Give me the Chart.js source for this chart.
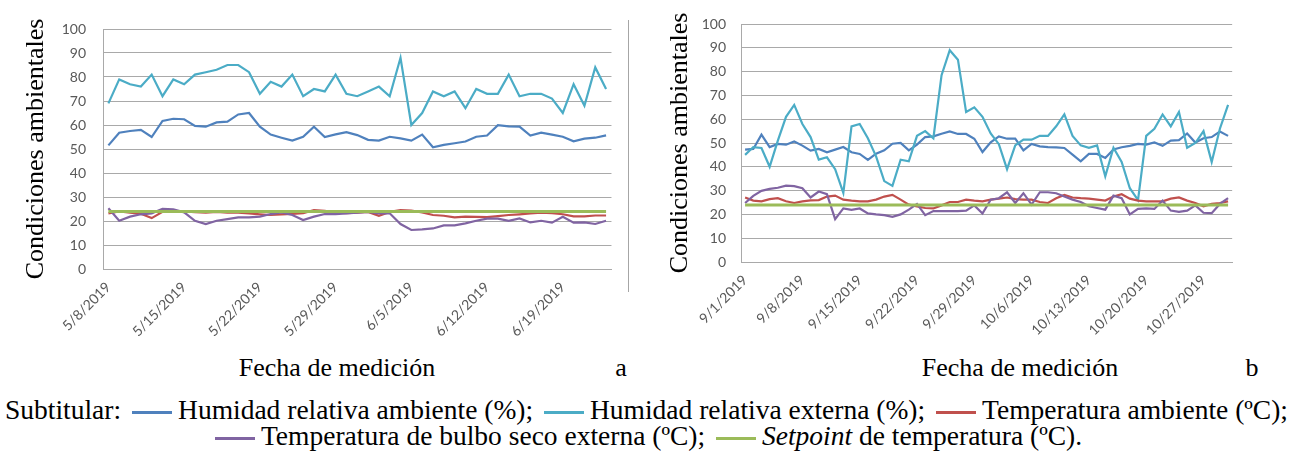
<!DOCTYPE html>
<html lang="es">
<head>
<meta charset="utf-8">
<title>Condiciones ambientales</title>
<script src="https://cdn.jsdelivr.net/npm/chart.js@4.4.1/dist/chart.umd.min.js"></script>
<style>
  html, body { margin: 0; padding: 0; background: #fff; }
  body { width: 1293px; height: 451px; position: relative; overflow: hidden;
         font-family: "Liberation Serif", "Times New Roman", serif; color: #000; }
  .box { position: absolute; top: 0; height: 350px; }
  #boxA { left: 0; width: 628px; }
  #boxB { left: 650px; width: 600px; }
  .frame { position: absolute; left: 628px; top: 20px; height: 272px; border-left: 1px solid #a6a6a6; }
  .xt { position: absolute; top: 352px; font-size: 26px; line-height: 32px; white-space: nowrap; transform: translateX(-50%); }
  .legend { position: absolute; left: 0; top: 397px; width: 1293px; text-align: center; font-size: 27.5px; line-height: 26px; white-space: nowrap; }
  .sw { display: inline-block; width: 40px; height: 3px; vertical-align: middle; margin: 0 6px 0 4px; }
</style>
</head>
<body>
<div class="box" id="boxA"><canvas id="chartA"></canvas></div>
<div class="frame"></div>
<div class="box" id="boxB"><canvas id="chartB"></canvas></div>

<div class="xt" style="left:337px">Fecha de medición</div>
<div class="xt" style="left:621px">a</div>
<div class="xt" style="left:1020px">Fecha de medición</div>
<div class="xt" style="left:1252px">b</div>

<div class="legend">
  Subtitular: <span class="sw" style="background:#4f81bd"></span>Humidad relativa ambiente (%); <span class="sw" style="background:#4bacc6"></span>Humidad relativa externa (%); <span class="sw" style="background:#c0504d"></span>Temperatura ambiente (ºC);<br>
  <span class="sw" style="background:#8064a2"></span>Temperatura de bulbo seco externa (ºC); <span class="sw" style="background:#9bbb59"></span><i>Setpoint</i> de temperatura (ºC).
</div>

<script>
'use strict';

// chart a: 5/8/2019 .. 6/23/2019 (one reading per day)
const startA = '2019-05-08';
const rhAmbientA = [51.5, 56.8, 57.5, 58, 55, 61.7, 62.6, 62.4, 59.6, 59.3,
  61.1, 61.4, 64.4, 65, 59.3, 56, 54.7, 53.5, 55.1, 59.3,
  55, 56.1, 57, 55.8, 53.8, 53.5, 55.1, 54.4, 53.5, 56,
  50.7, 51.7, 52.4, 53.1, 55.1, 55.6, 59.9, 59.4, 59.3, 55.6,
  56.8, 56, 55.1, 53.2, 54.3, 54.7, 55.7];
const rhExternaA = [69, 79, 77, 76, 81, 72, 79, 77, 81, 82,
  83, 85, 85, 82, 73, 78, 76, 81, 72, 75,
  74, 81, 73, 72, 74, 76, 72, 88, 60, 65,
  74, 72, 74, 67, 75, 73, 73, 81, 72, 73,
  73, 71, 65, 77, 68, 84, 75];
const tempAmbientA = [23.2, 24, 23.5, 23, 21.2, 23.8, 24, 24, 23.7, 23.5,
  23.8, 23.5, 23.5, 23.2, 22.8, 22.5, 22.8, 23, 23.3, 24.5,
  24.2, 23.5, 23.3, 23.5, 23.8, 22.2, 23.8, 24.5, 24.3, 23.6,
  22.5, 22.2, 21.5, 21.8, 21.7, 21.6, 22, 22.5, 22.8, 23.2,
  23.5, 23.3, 22.8, 21.9, 21.9, 22.3, 22.3];
const tempBulboA = [25.3, 20.1, 21.8, 22.8, 23.2, 25.1, 24.9, 23.6, 20.1, 18.75,
  20.1, 20.8, 21.5, 21.5, 21.8, 22.9, 23.6, 22.5, 20.4, 21.8,
  22.9, 22.9, 23.2, 23.5, 23.8, 23.2, 23.2, 18.75, 16.25, 16.5,
  16.9, 18.2, 18.2, 19, 20.1, 21, 21, 20.1, 21.1, 19.4,
  20.1, 19.3, 21.8, 19.3, 19.4, 18.75, 20.1];
const setpointA = [24, 24, 24, 24, 24, 24, 24, 24, 24, 24,
  24, 24, 24, 24, 24, 24, 24, 24, 24, 24,
  24, 24, 24, 24, 24, 24, 24, 24, 24, 24,
  24, 24, 24, 24, 24, 24, 24, 24, 24, 24,
  24, 24, 24, 24, 24, 24, 24];

// chart b: 9/1/2019 .. 10/30/2019
const startB = '2019-09-01';
const rhAmbientB = [47.2, 47.5, 53.5, 48.3, 49.6, 49.3, 50.6, 48.9, 46.8, 47.5,
  46.1, 47.2, 48.3, 46.1, 45.4, 42.9, 45.5, 46.9, 49.7, 50,
  46.9, 49.3, 52.5, 52.8, 53.9, 54.9, 53.8, 53.8, 51.8, 46.2,
  50.3, 52.8, 51.8, 51.8, 46.9, 49.6, 48.6, 48.3, 48.2, 47.9,
  45.1, 42.3, 45.4, 45.4, 43.7, 47.3, 48.2, 48.8, 49.6, 49.3,
  50.2, 48.8, 51, 51.2, 54, 50.2, 52, 52.5, 54.8, 53];
const rhExternaB = [45, 48.3, 47.9, 40, 51, 61, 66, 58, 52.5, 43,
  44, 39, 29, 57, 58, 52, 44.4, 34, 32, 43,
  42.3, 53, 55, 52, 78.5, 89, 85, 63, 65, 61,
  54, 49.5, 39, 49, 51.4, 51.4, 53, 53, 57, 62,
  53, 49, 48, 49, 36, 48, 42, 31, 26, 53,
  56, 62, 57, 63, 48, 50, 55, 42, 56, 66];
const tempAmbientB = [27.1, 25.8, 25.5, 26.4, 26.8, 25.5, 24.8, 25.5, 25.9, 26,
  27.5, 27.9, 26.2, 25.8, 25.5, 25.5, 26.2, 27.5, 28.2, 26.2,
  24.1, 23.4, 22.7, 22.5, 23.8, 25.2, 25.2, 26.2, 25.8, 25.5,
  26.2, 26.6, 27.1, 26.4, 26.2, 26.2, 25.2, 24.8, 26.8, 28.2,
  27.1, 26.8, 26.6, 26.2, 25.8, 27.5, 28.5, 26.6, 25.8, 25.5,
  25.5, 25.5, 26.6, 27.1, 25.8, 24.8, 23.4, 24.4, 24.8, 25.5];
const tempBulboB = [24.8, 27.8, 29.9, 30.7, 31.2, 32.1, 31.9, 31, 27.1, 29.6,
  28.5, 18, 22.5, 21.9, 22.5, 20.4, 20, 19.7, 19, 20,
  22, 24.4, 19.7, 21.4, 21.4, 21.4, 21.4, 21.6, 23.8, 20.4,
  26.2, 26.8, 29.3, 24.8, 28.9, 24.1, 29.3, 29.3, 28.9, 27.5,
  26.2, 25.2, 23.4, 22.7, 22, 27.9, 26.8, 20, 22.3, 22.5,
  22.3, 25.8, 21.6, 21.1, 21.6, 23.8, 20.7, 20.5, 24.4, 26.8];
const setpointB = [24, 24, 24, 24, 24, 24, 24, 24, 24, 24,
  24, 24, 24, 24, 24, 24, 24, 24, 24, 24,
  24, 24, 24, 24, 24, 24, 24, 24, 24, 24,
  24, 24, 24, 24, 24, 24, 24, 24, 24, 24,
  24, 24, 24, 24, 24, 24, 24, 24, 24, 24,
  24, 24, 24, 24, 24, 24, 24, 24, 24, 24];

const yTicks = [0, 10, 20, 30, 40, 50, 60, 70, 80, 90, 100];

const seriesNames = ['Humidad relativa ambiente (%)', 'Humidad relativa externa (%)',
  'Temperatura ambiente (ºC)', 'Temperatura de bulbo seco externa (ºC)', 'Setpoint de temperatura (ºC)'];
const seriesColors = ['#4f81bd', '#4bacc6', '#c0504d', '#8064a2', '#9bbb59'];

// consecutive day labels like 5/8/2019
function dayLabels(start, n) {
  let out = [];
  let d = new Date(start + 'T12:00:00');
  for (let i = 0; i < n; i++) {
    out.push((d.getMonth() + 1) + '/' + d.getDate() + '/' + d.getFullYear());
    d.setDate(d.getDate() + 1);
  }
  return out;
}

const gridGray = '#a9a9a9';
const tickFont = { family: 'Lato, "Liberation Sans", sans-serif', size: 14 };

function renderChart(canvasId, labels, series, geo) {
  let datasets = [];
  for (let i = 0; i < series.length; i++) {
    datasets.push({
      label: seriesNames[i],
      data: series[i],
      borderColor: seriesColors[i],
      backgroundColor: seriesColors[i],
      borderWidth: i === 4 ? 3 : 2.2,
      pointRadius: 0,
      tension: 0,
      order: 5 - i   // later series drawn on top, like the spreadsheet
    });
  }

  new Chart(document.getElementById(canvasId), {
    type: 'line',
    data: { labels: labels, datasets: datasets },
    options: {
      responsive: true,
      maintainAspectRatio: false,
      animation: false,
      events: [],
      layout: { padding: { left: 0, right: geo.right, top: geo.top, bottom: 0 } },
      plugins: { legend: { display: false }, tooltip: { enabled: false } },
      scales: {
        x: {
          offset: true,
          grid: { display: false, drawTicks: false },
          border: { display: true, color: gridGray, width: 1 },
          ticks: {
            autoSkip: false,
            minRotation: 45,
            maxRotation: 45,
            padding: 10,
            color: '#595959',
            font: tickFont,
            callback: function (value, index) {
              return index % 7 === 0 ? this.getLabelForValue(value) : '';
            }
          },
          afterFit: function (scale) { scale.height = geo.xHeight; }
        },
        y: {
          min: 0,
          max: 100,
          afterBuildTicks: function (scale) {
            scale.ticks = yTicks.map(v => ({ value: v }));
          },
          grid: { color: gridGray, lineWidth: 1, drawTicks: false },
          border: { display: true, color: gridGray, width: 1 },
          ticks: { padding: geo.tickPad, color: '#595959', font: tickFont },
          title: {
            display: true,
            text: 'Condiciones ambientales',
            color: '#000',
            font: { family: '"Liberation Serif", "Times New Roman", serif', size: 26 },
            padding: { top: geo.titlePad, bottom: 0 }
          },
          afterFit: function (scale) { scale.width = geo.yWidth; }
        }
      }
    }
  });
}

renderChart('chartA', dayLabels(startA, rhAmbientA.length),
  [rhAmbientA, rhExternaA, tempAmbientA, tempBulboA, setpointA],
  { right: 5, top: 29, xHeight: 81, yWidth: 103, tickPad: 17, titlePad: 21 });

renderChart('chartB', dayLabels(startB, rhAmbientB.length),
  [rhAmbientB, rhExternaB, tempAmbientB, tempBulboB, setpointB],
  { right: 6, top: 24, xHeight: 88, yWidth: 91, tickPad: 15, titlePad: 15 });
</script>
</body>
</html>
